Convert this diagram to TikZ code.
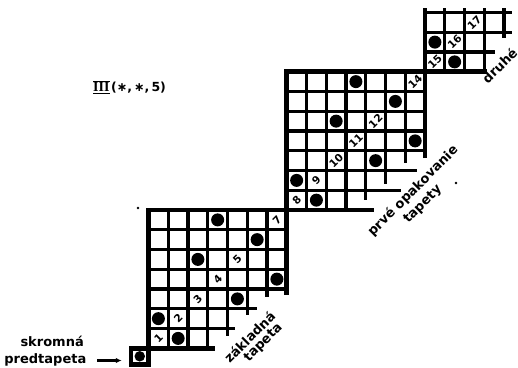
\documentclass[tikz,border=0pt]{standalone}
\usepackage{fontspec}
\setmainfont{DejaVu Sans}
\newfontfamily\serifIII{Liberation Serif}
\usetikzlibrary{arrows.meta}
\begin{document}
\begin{tikzpicture}[x=1pt,y=-1pt,
  gl/.style={line width=3.1pt},
  tl/.style={line width=4.8pt,line join=miter},
  dotn/.style={circle,fill=black,minimum size=13pt,inner sep=0pt},
  num/.style={font=\bfseries\fontsize{10.5}{10.5}\selectfont,rotate=45,inner sep=0pt},
  lab/.style={font=\bfseries\fontsize{13}{13}\selectfont,inner sep=0pt}]
\useasboundingbox (0,0) rectangle (518,367);
% base tapeta
\begin{scope}[shift={(148.5,210)},x=19.75pt,y=-19.75pt]
 \foreach \r/\e in {1/7,2/7,3/7,4/7,5/5.5,6/4.4} \draw[gl] (0,\r) -- (\e,\r);
 \foreach \c/\e in {1/7,2/7,3/7,4/6.4,5/5.3,6/4.4} \draw[gl] (\c,0) -- (\c,\e);
 \draw[tl] (7,0) -- (7,4.3);
 \draw[tl] (-0.9,7) -- (3.37,7);
 \foreach \r/\c [count=\i] in {1/4,2/6,3/3,4/7,5/5,6/1,7/2}
   \node[dotn] (b-dot\i) at (\c-0.5,\r-0.5) {};
 \foreach \r/\c/\t in {7/1/1,6/2/2,5/3/3,4/4/4,3/5/5,1/7/7}
   \node[num] (b-n\t) at (\c-0.5,\r-0.5) {\t};
\end{scope}
% first repetition
\begin{scope}[shift={(286.75,71.75)},x=19.75pt,y=-19.75pt]
 \foreach \r/\e in {1/7,2/7,3/7,4/7,5/6.58,6/5.8} \draw[gl] (0,\r) -- (\e,\r);
 \foreach \c/\e in {1/7,2/7,3/7,4/6.5,5/5.7,6/4.6} \draw[gl] (\c,0) -- (\c,\e);
 \foreach \r/\c [count=\i] in {1/4,2/6,3/3,4/7,5/5,6/1,7/2}
   \node[dotn] (p-dot\i) at (\c-0.5,\r-0.5) {};
 \foreach \r/\c/\t in {7/1/8,6/2/9,5/3/10,4/4/11,3/5/12,1/7/14}
   \node[num] (p-n\t) at (\c-0.5,\r-0.5) {\t};
\end{scope}
% second repetition
\begin{scope}[shift={(425,12.5)},x=19.75pt,y=-19.75pt]
 \foreach \r/\e in {0/4.4,1/4.4,2/3.54} \draw[gl] (0,\r) -- (\e,\r);
 \foreach \c/\e in {1/3,2/3,3/3,4/1.3} \draw[gl] (\c,-0.22) -- (\c,\e);
 \foreach \r/\c [count=\i] in {2/1,3/2}
   \node[dotn] (d-dot\i) at (\c-0.5,\r-0.5) {};
 \foreach \r/\c/\t in {3/1/15,2/2/16,1/3/17}
   \node[num] (d-n\t) at (\c-0.5,\r-0.5) {\t};
\end{scope}
% thick staircase
\draw[tl] (148.5,366) -- (148.5,210) -- (373.6,210);
\draw[tl] (286.75,210) -- (286.75,71.75) -- (487,71.75);
\draw[tl] (425,158) -- (425,8);
% predtapeta
\node[draw,line width=4.5pt,minimum width=17.5pt,minimum height=16pt,inner sep=0pt] (pre) at (139.75,356.3) {};
\node[dotn,minimum size=10.5pt] (pre-dot) at (pre.center) {};
\coordinate (arrS) at (97,360.5);
\draw[line width=2.4pt,-{Latex[length=6pt,width=5.5pt]},shorten >=7pt] (arrS) -- (arrS -| pre.west);
% texts
\node[lab,anchor=base east] (skr) at (84,346.5) {skromná};
\node[lab,anchor=base east] (pred) at (86.5,363) {predtapeta};
\node[lab,rotate=45] (zak) at (249.5,337) {základná};
\node[lab,rotate=45] (tap1) at (263.5,343) {tapeta};
\node[lab,rotate=45] (prve) at (413,191) {prvé opakovanie};
\node[lab,rotate=45] (tap2) at (423,204.5) {tapety};
\node[lab,rotate=45] (druhe) at (499.5,65.5) {druhé};
\node[anchor=west,inner sep=0pt] (title) at (93,87)
  {$\overline{\underline{\hbox{\serifIII\bfseries\fontsize{14}{14}\selectfont III}}}$\,{\bfseries\fontsize{12.5}{12.5}\selectfont(∗,\,∗,\,5)}};
% specks
\fill (138,208) circle (1.3pt);
\fill (456,183) circle (1.3pt);
\end{tikzpicture}
\end{document}
